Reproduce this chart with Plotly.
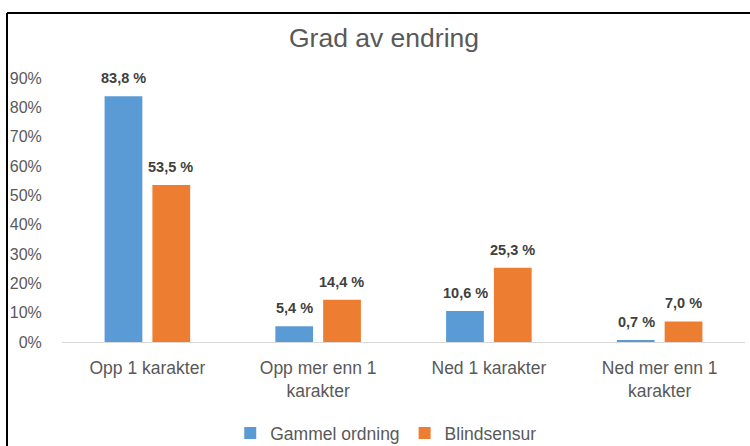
import plotly.graph_objects as go

categories = ["Opp 1 karakter", "Opp mer enn 1<br>karakter", "Ned 1 karakter", "Ned mer enn 1<br>karakter"]
gammel = [0.838, 0.054, 0.106, 0.007]
blind = [0.535, 0.144, 0.253, 0.070]
series_names = ["Gammel ordning", "Blindsensur"]
tick_vals = [0, 0.1, 0.2, 0.3, 0.4, 0.5, 0.6, 0.7, 0.8, 0.9]

FONT = "Liberation Sans, Arial, sans-serif"

def lab(v):
    return f"{v*100:.1f}".replace(".", ",") + " %"

fig = go.Figure()
series = [(series_names[0], gammel, "#5B9BD5", -23.5), (series_names[1], blind, "#ED7D31", 23.5)]
for name, vals, col, dx in series:
    fig.add_trace(go.Bar(
        x=categories, y=vals, name=name,
        marker=dict(color=col, line=dict(width=0)),
        cliponaxis=False,
    ))
    for c, v in zip(categories, vals):
        fig.add_annotation(x=c, y=v, text=lab(v), showarrow=False, xshift=dx, yshift=18,
                           yanchor="middle", xanchor="center",
                           font=dict(family=FONT, size=14.5, color="#404040", weight="bold"))

fig.update_layout(
    width=750, height=446,
    margin=dict(l=62, r=5, t=78, b=104, autoexpand=False),
    paper_bgcolor="white", plot_bgcolor="white",
    barmode="group", bargap=0.44, bargroupgap=0.21,
    title=dict(text="Grad av endring", x=0.512, xanchor="center", y=1 - 38 / 446, yanchor="middle",
               font=dict(family=FONT, size=26.5, color="#595959")),
    font=dict(family=FONT, color="#595959"),
    legend=dict(orientation="h", x=0.474, xanchor="center", y=-0.345, yanchor="middle",
                font=dict(family=FONT, size=17.5, color="#595959"), itemwidth=30),
    showlegend=True,
)
fig.update_xaxes(showline=True, linecolor="#D9D9D9", linewidth=1, showgrid=False,
                 tickfont=dict(family=FONT, size=17.5, color="#595959"), ticks="outside", ticklen=10,
                 tickcolor="rgba(0,0,0,0)")
fig.update_yaxes(range=[0, 0.9], tickvals=tick_vals, tickformat=".0%", showgrid=False, zeroline=False,
                 tickfont=dict(family=FONT, size=16, color="#595959"), ticks="outside", ticklen=16,
                 tickcolor="rgba(0,0,0,0)")

# Chart-frame border (left and top edges of the cropped frame)
fig.add_shape(type="line", xref="paper", yref="paper", x0=(7-62)/683, x1=(7-62)/683,
              y0=(446-13-104)/264, y1=(446-460-104)/264, line=dict(color="black", width=2))
fig.add_shape(type="line", xref="paper", yref="paper", x0=(7-62)/683, x1=(760-62)/683,
              y0=(446-13-104)/264, y1=(446-13-104)/264, line=dict(color="black", width=2))

fig.write_html("out.html", config={"displayModeBar": False},
               post_script="document.body.style.margin='0';")
